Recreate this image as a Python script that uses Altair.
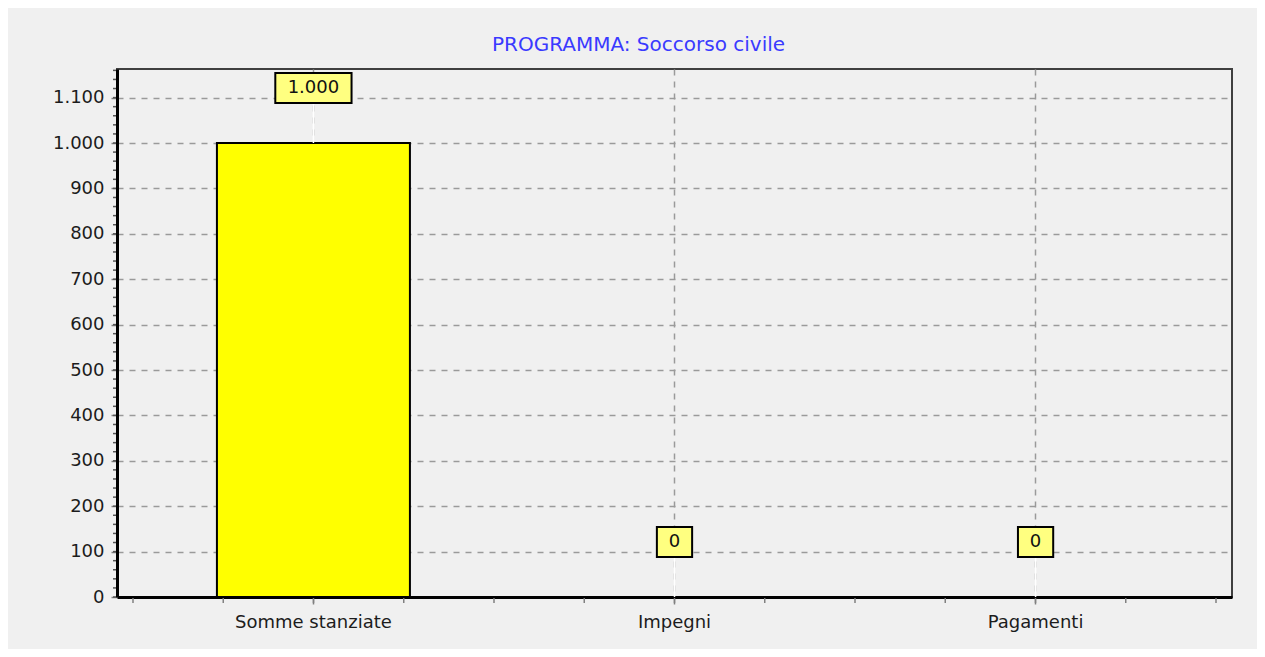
import altair as alt
import pandas as pd

# ---- data ----
categories = ["Somme stanziate", "Impegni", "Pagamenti"]
values = [1000, 0, 0]
title_text = "PROGRAMMA: Soccorso civile"
y_ticks = [0, 100, 200, 300, 400, 500, 600, 700, 800, 900, 1000, 1100]
y_max = 1163

df = pd.DataFrame({"cat": categories, "value": values})

FONT = "DejaVu Sans"
TXT = "#1c1c1c"
GRID = "#9a9a9a"
label_expr = "replace(format(datum.value, ','), ',', '.')"

xscale = alt.Scale(domain=categories, paddingInner=0, paddingOuter=0.044)
yscale = alt.Scale(domain=[0, y_max], nice=False, zero=True)

x_axis = alt.Axis(labelAngle=0, labelFontSize=18, labelFont=FONT, labelColor=TXT,
                  labelPadding=9, tickSize=7, tickColor="#808080", tickWidth=1.5,
                  domainColor="black", domainWidth=3,
                  grid=True, gridDash=[6, 6], gridColor=GRID, gridWidth=1.5)
y_axis = alt.Axis(values=y_ticks, labelExpr=label_expr, labelFontSize=18, labelFont=FONT,
                  labelColor=TXT, labelPadding=7, tickSize=6, tickColor="#808080",
                  tickWidth=1.5, domainColor="black", domainWidth=3,
                  grid=True, gridDash=[6, 6], gridColor=GRID, gridWidth=1.5)

base = alt.Chart(df).transform_calculate(
    label=label_expr,
    w="10.25*length(datum.label)+25",
)

x_enc = alt.X("cat:N", sort=categories, scale=xscale, title=None, axis=x_axis)
y_enc = alt.Y("value:Q", scale=yscale, title=None, axis=y_axis)

bars = base.mark_bar(size=193, color="#ffff00", stroke="black", strokeWidth=2).encode(
    x=x_enc, y=y_enc,
)

leaders = base.mark_rule(color="white", strokeWidth=1.5, y2Offset=-40).encode(
    x=x_enc, y=y_enc, y2=alt.Y2("value")
)

boxes = base.mark_bar(fill="#ffff80", stroke="black", strokeWidth=2,
                      yOffset=-40, y2Offset=-70).encode(
    x=x_enc, y=y_enc, y2=alt.Y2("value"),
    size=alt.Size("w:Q", scale=None),
)

texts = base.mark_text(font=FONT, fontSize=18, color="#111111", dy=-55,
                       baseline="middle").encode(
    x=x_enc, y=y_enc, text="label:N"
)

y_minor = alt.Chart(alt.sequence(0, y_max, 20, as_="value")).mark_rule(
    color="#555555", strokeWidth=1.5).encode(
    y=y_enc,
    x=alt.value(-4), x2=alt.value(-1),
)

main = alt.layer(bars, leaders, boxes, texts, y_minor)

x_minor = alt.Chart(alt.sequence(-0.5, 2.51, 0.25, as_="k")).mark_rule(
    color="#808080", strokeWidth=1.5).encode(
    x=alt.X("k:Q", scale=alt.Scale(domain=[-0.5443, 2.5443], nice=False, zero=False),
            axis=None, title=None),
    y=alt.value(529), y2=alt.value(534),
)

chart = alt.layer(main, x_minor).resolve_scale(x="independent").properties(
    width=1115,
    height=528,
    padding={"left": 109, "top": 61, "right": 25, "bottom": 52},
    autosize=alt.AutoSizeParams(type="none"),
    background="#f0f0f0",
    title=alt.TitleParams(title_text, font=FONT, fontSize=20, fontWeight="normal",
                          color="#3a3aff", anchor="middle", dx=-36, offset=14),
).configure_view(stroke="#404040", strokeWidth=2, fill="#f0f0f0")

chart.save("out.html", embed_options={"renderer": "svg", "actions": False})
